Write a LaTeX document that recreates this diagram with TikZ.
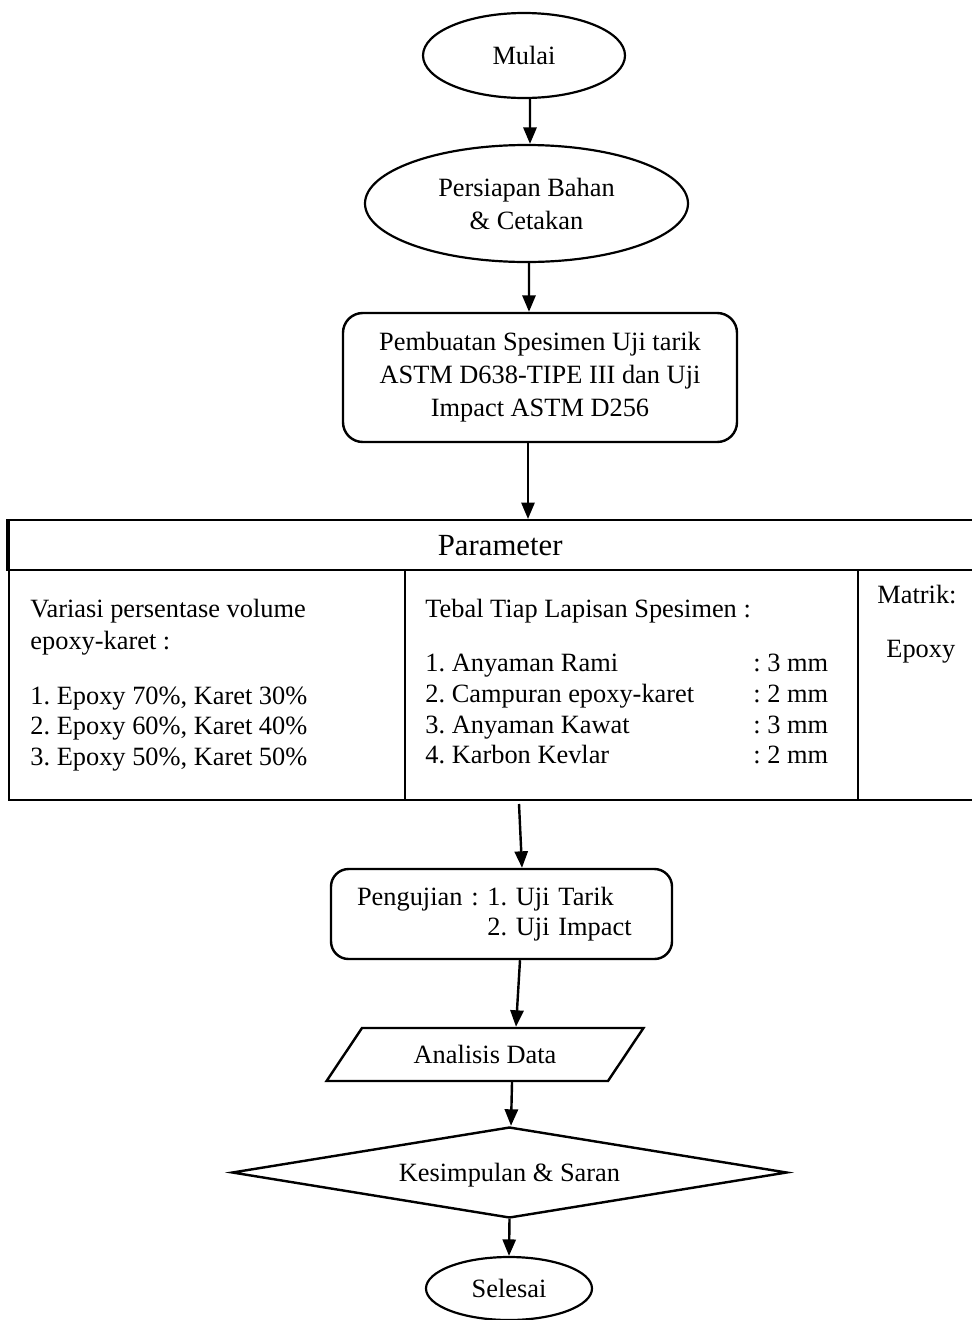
\documentclass[tikz,border=0pt]{standalone}
\usepackage{fontspec}
\setmainfont{Liberation Serif}
\usetikzlibrary{shapes.geometric,arrows.meta,calc}
\def\u{0.455pt}
\frenchspacing
\begin{document}
\begin{tikzpicture}[x=0.455pt,y=-0.455pt,
  every node/.style={font=\fontsize{12pt}{13.9pt}\selectfont},
  arr/.style={line width=1.1pt,-{Triangle[length=7.5pt,width=6pt]}},
  oval/.style={draw,ellipse,line width=1pt,inner sep=0pt,align=center,
    font=\fontsize{12pt}{15pt}\selectfont},
  rbox/.style={draw,line width=1.1pt,inner sep=0pt,
    font=\fontsize{12pt}{15pt}\selectfont},
  cell/.style={draw,line width=1.1pt,inner sep=0pt,anchor=north west},
  txt/.style={inner sep=0pt,anchor=base west},
]
\useasboundingbox (0,0) rectangle (972,1320);
\clip (0,0) rectangle (972,1320);

% flow nodes
\node[oval,minimum width=202*\u,minimum height=85*\u] (mulai) at (524,55.5) {Mulai};
\node[oval,minimum width=323*\u,minimum height=117*\u] (persiapan) at (526.5,203.5)
  {Persiapan Bahan\\\& Cetakan};
\node[rbox,rounded corners=9pt,align=center,minimum width=394*\u,minimum height=129*\u]
  (pembuatan) at (540,377.5)
  {Pembuatan Spesimen Uji tarik\\ASTM D638-TIPE III dan Uji\\Impact ASTM D256};

% parameter table
\node[cell,minimum width=982*\u,minimum height=50*\u,
  font=\fontsize{14pt}{16pt}\selectfont] (param) at (8,519) {Parameter};
\draw[line width=1.8pt] (param.north west) -- (param.south west);
\node[cell,minimum width=396*\u,minimum height=230*\u] (c1) at (8,569) {};
\node[cell,minimum width=453*\u,minimum height=230*\u] (c2) at (404,569) {};
\node[cell,minimum width=133*\u,minimum height=230*\u] (c3) at (857,569) {};

\node[txt] (t1) at (30,617) {\begin{tabular}[t]{@{}l@{}}
Variasi persentase volume\\[1.1pt]
epoxy-karet :\\[10.7pt]
1. Epoxy 70\%, Karet 30\%\\
2. Epoxy 60\%, Karet 40\%\\
3. Epoxy 50\%, Karet 50\%
\end{tabular}};
\node[txt] (t2) at (425,617) {\begin{tabular}[t]{@{}l@{}}
Tebal Tiap Lapisan Spesimen :\\[11.1pt]
\makebox[149.2pt][l]{1. Anyaman Rami}: 3 mm\\
\makebox[149.2pt][l]{2. Campuran epoxy-karet}: 2 mm\\
\makebox[149.2pt][l]{3. Anyaman Kawat}: 3 mm\\
\makebox[149.2pt][l]{4. Karbon Kevlar}: 2 mm
\end{tabular}};
\node[txt] (t3) at (877,603) {Matrik:};
\node[txt] (t4) at (886,657) {Epoxy};

\node[rbox,rounded corners=8pt,align=left,inner xsep=26*\u,text width=289*\u,
  minimum height=90*\u,font=\fontsize{12pt}{13.9pt}\selectfont] (uji) at (501.5,914)
  {Pengujian : 1. Uji Tarik\\\hphantom{Pengujian :}\ 2. Uji Impact};

\node[draw,trapezium,trapezium left angle=42,trapezium right angle=138,
  trapezium stretches=true,line width=1.1pt,inner sep=0pt,
  minimum width=318*\u,minimum height=53*\u] (anal) at (485,1054.5) {Analisis Data};

\node[draw,diamond,aspect=6,line width=1.1pt,inner sep=0pt,text depth=0pt,
  minimum width=555*\u,minimum height=91*\u] (kes) at (509.5,1172.5)
  {Kesimpulan \& Saran};

\node[oval,minimum width=166*\u,minimum height=63*\u] (selesai) at (509,1288.5) {Selesai};

% connectors
\coordinate (p1) at ($(pembuatan.south)+(-12,0)$);
\coordinate (tout) at (519,804);
\draw[arr] ($(mulai.south)+(6,0)$) -- ($(persiapan.north)+(3.5,0)$);
\draw[arr] ($(persiapan.south)+(2.5,0)$) -- ($(pembuatan.north)+(-11,0)$);
\draw[arr] (p1) -- (p1 |- param.north);
\draw[arr] (tout) -- ($(uji.north)+(20.5,0)$);
\draw[arr] ($(uji.south)+(18.5,0)$) -- ($(anal.north)+(31,0)$);
\draw[arr] ($(anal.south)+(27,0)$) -- ($(kes.north)+(1.5,0)$);
\draw[arr] (kes.south) -- (selesai.north);
\end{tikzpicture}
\end{document}
